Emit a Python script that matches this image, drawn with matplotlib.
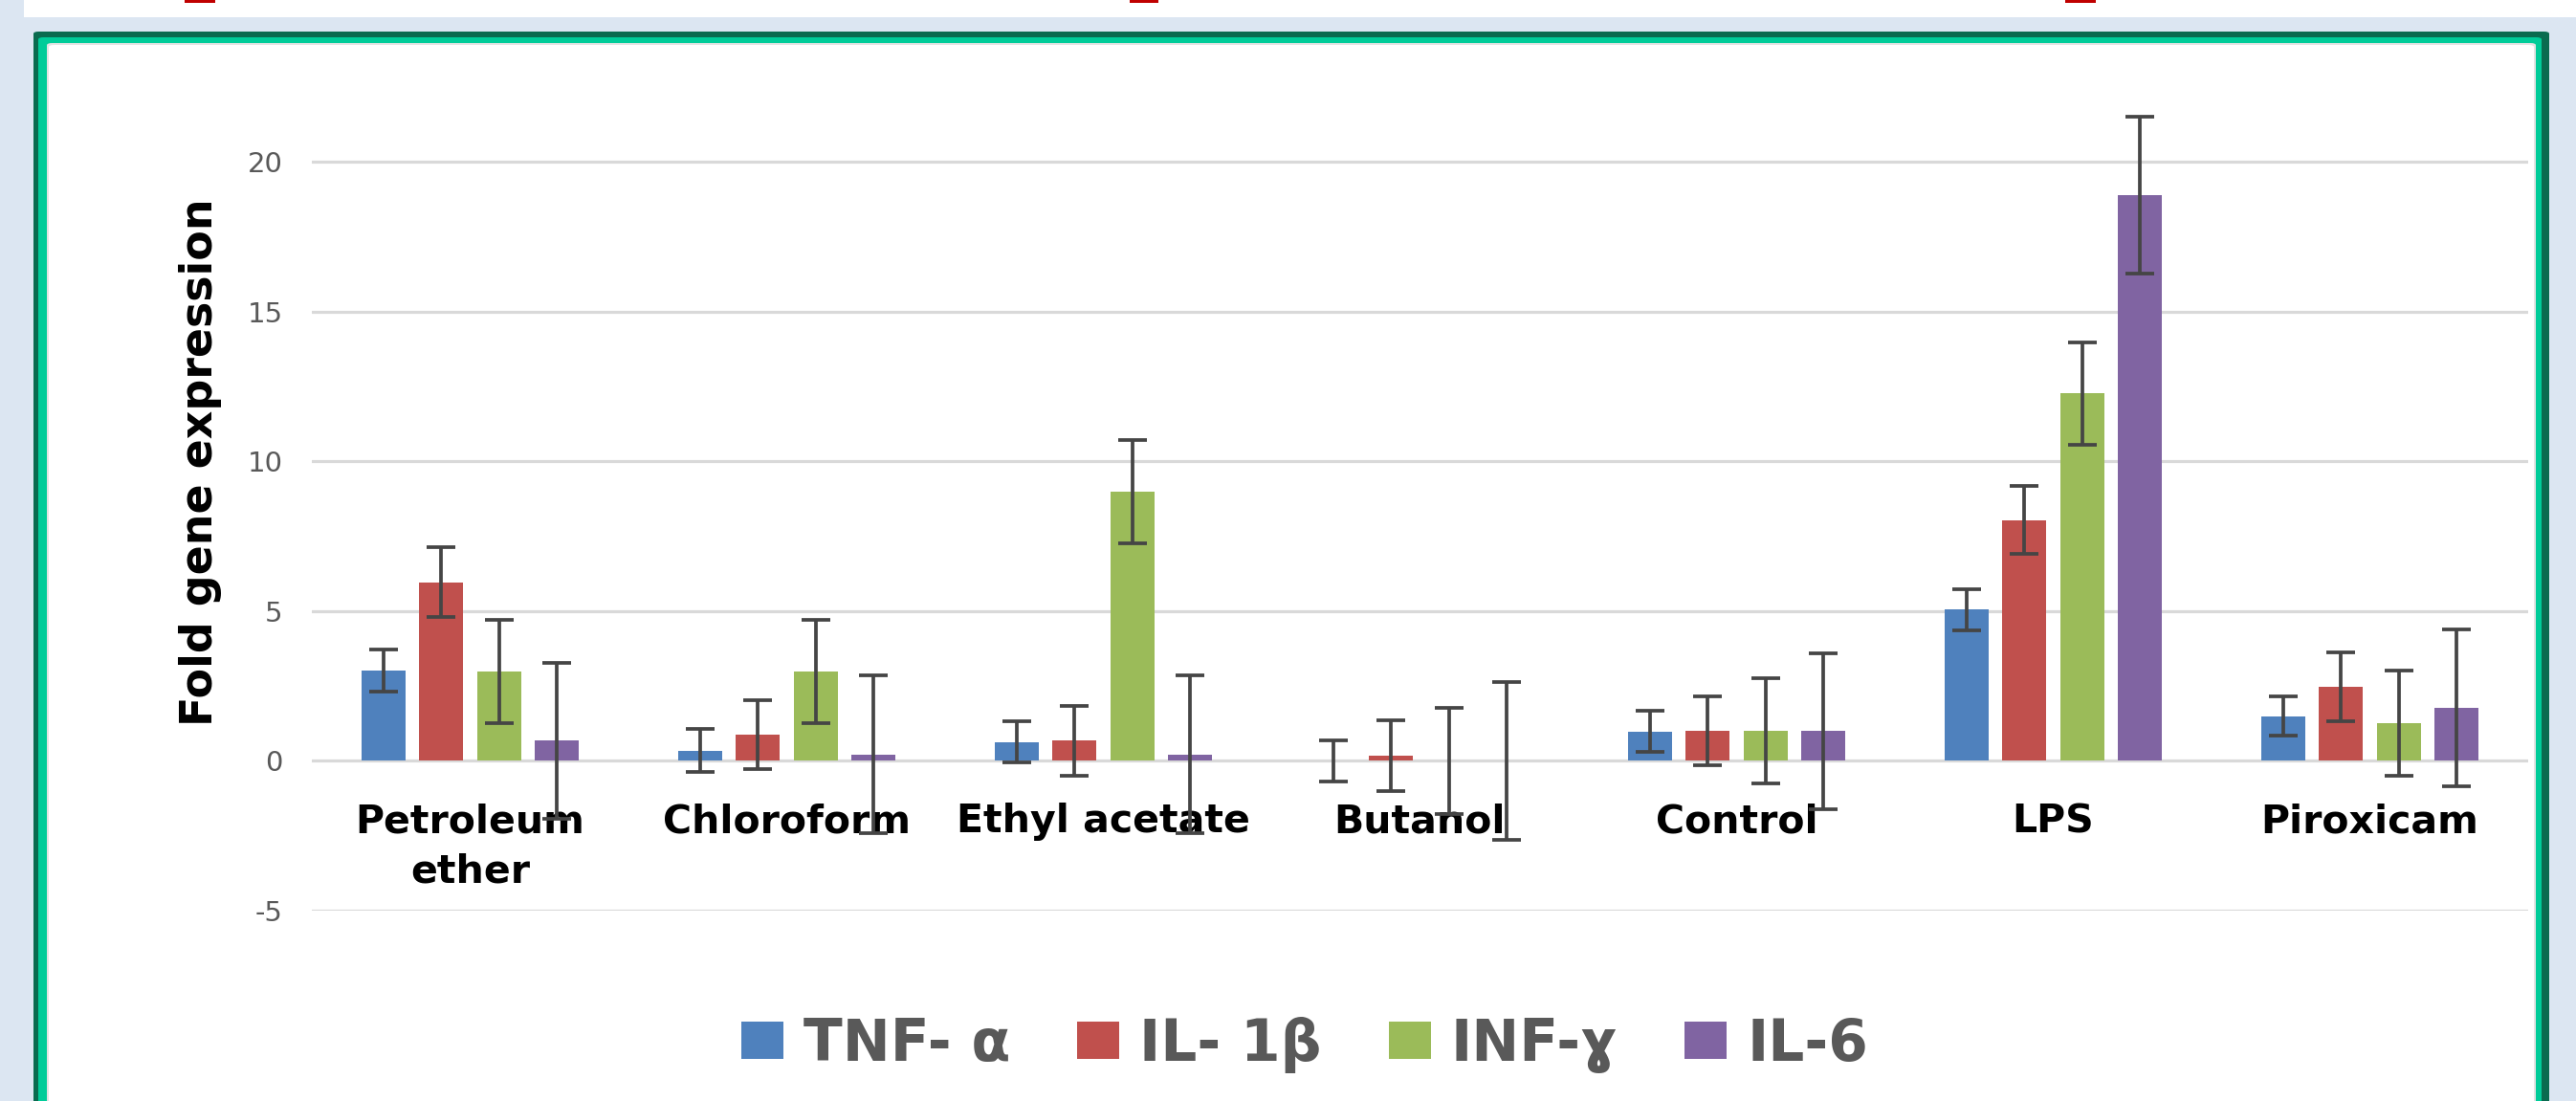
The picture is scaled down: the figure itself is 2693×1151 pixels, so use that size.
import numpy as np
import matplotlib
matplotlib.use('Agg')
import matplotlib.pyplot as plt
from matplotlib.patches import Rectangle, FancyBboxPatch

categories = ['Petroleum\nether', 'Chloroform', 'Ethyl acetate', 'Butanol', 'Control', 'LPS', 'Piroxicam']
series = ['TNF- α', 'IL- 1β', 'INF-ɣ', 'IL-6']

tnf = [3.02, 0.35, 0.63, 0.0, 0.99, 5.05, 1.50]
tnf_err = [0.69, 0.71, 0.69, 0.69, 0.69, 0.69, 0.66]
il1b = [5.97, 0.88, 0.68, 0.18, 1.00, 8.05, 2.47]
il1b_err = [1.17, 1.15, 1.16, 1.18, 1.15, 1.14, 1.16]
infg = [2.98, 2.98, 9.00, 0.0, 1.00, 12.27, 1.27]
infg_err = [1.73, 1.73, 1.72, 1.76, 1.75, 1.72, 1.75]
il6 = [0.68, 0.22, 0.22, 0.0, 1.00, 18.90, 1.77]
il6_err = [2.60, 2.63, 2.63, 2.63, 2.60, 2.62, 2.62]

yticks = [-5, 0, 5, 10, 15, 20]

values = [tnf, il1b, infg, il6]
errors = [tnf_err, il1b_err, infg_err, il6_err]
colors = ['#4F81BD', '#C0504D', '#9BBB59', '#8064A2']

W, H = 2693, 1151
fig = plt.figure(figsize=(W / 100, H / 100), dpi=100)
fig.patch.set_facecolor('#DCE6F2')


def px(x0, y0, x1, y1):
    # pixel box (top-left origin) -> figure fraction rect
    return (x0 / W, 1 - y1 / H), (x1 - x0) / W, (y1 - y0) / H


# white strip at the very top with the cut-off red title bits
xy, w, h = px(25, 0, W, 18)
fig.patches.append(Rectangle(xy, w, h, transform=fig.transFigure, facecolor='white', edgecolor='none'))
for x0, x1 in [(193, 225), (1181, 1211), (2159, 2191)]:
    xy, w, h = px(x0, 0, x1, 2.5)
    fig.patches.append(Rectangle(xy, w, h, transform=fig.transFigure, facecolor='#C00000', edgecolor='none'))

# green frame
for (x0, y0, x1, y1), c in [((35, 33, 2665, H + 20), '#0A6B4F'),
                            ((40, 39, 2657, H + 20), '#00CC99'),
                            ((49, 45, 2651, H + 20), '#E3E3E3'),
                            ((51, 47, 2649, H + 20), 'white')]:
    xy, w, h = px(x0, y0, x1, y1)
    fig.patches.append(FancyBboxPatch(xy, w, h, boxstyle='round,pad=0,rounding_size=0.002',
                                      transform=fig.transFigure, facecolor=c, edgecolor='none'))

ax = fig.add_axes([326 / W, 1 - 952 / H, (2643 - 326) / W, (952 - 44.3) / H])
ax.set_zorder(3)
ax.patch.set_visible(False)

x = np.arange(len(categories))
width = 0.139
step = 0.182
for i, (vals, errs, col, name) in enumerate(zip(values, errors, colors, series)):
    pos = x + (i - 1.5) * step
    ax.bar(pos, vals, width, color=col, label=name, zorder=2)
    ax.errorbar(pos, vals, yerr=errs, fmt='none', ecolor='#454545', elinewidth=2.7,
                capsize=11, capthick=2.7, zorder=5)

ax.set_xlim(-0.5, len(categories) - 0.5)
ax.set_ylim(-5, 24)
ax.set_yticks(yticks)
ax.set_yticklabels([str(t) for t in yticks], color='#595959', fontsize=21)
ax.tick_params(axis='y', length=0, pad=22)
ax.set_xticks([])
ax.grid(axis='y', color='#D9D9D9', linewidth=2.3, zorder=0)
ax.set_axisbelow(True)
for s in ax.spines.values():
    s.set_visible(False)

for xi, cat in zip(x, categories):
    ax.text(xi, -1.4, cat, ha='center', va='top', fontsize=29.5, fontweight='bold',
            color='black', linespacing=1.4, zorder=1)

fig.text(210 / W, 1 - 483 / H, 'Fold gene expression', rotation=90, ha='center', va='center',
         fontsize=33, fontweight='bold', color='black', zorder=4)

leg = fig.legend(loc='center', bbox_to_anchor=(1364 / W, 1 - 1092 / H), ncol=4, frameon=False,
                 prop={'weight': 'bold', 'size': 43}, labelcolor='#595959',
                 handlelength=0.74, handleheight=0.62, handletextpad=0.35, columnspacing=1.17)
leg.set_zorder(4)

fig.savefig('out.png', dpi=100, facecolor=fig.get_facecolor())
